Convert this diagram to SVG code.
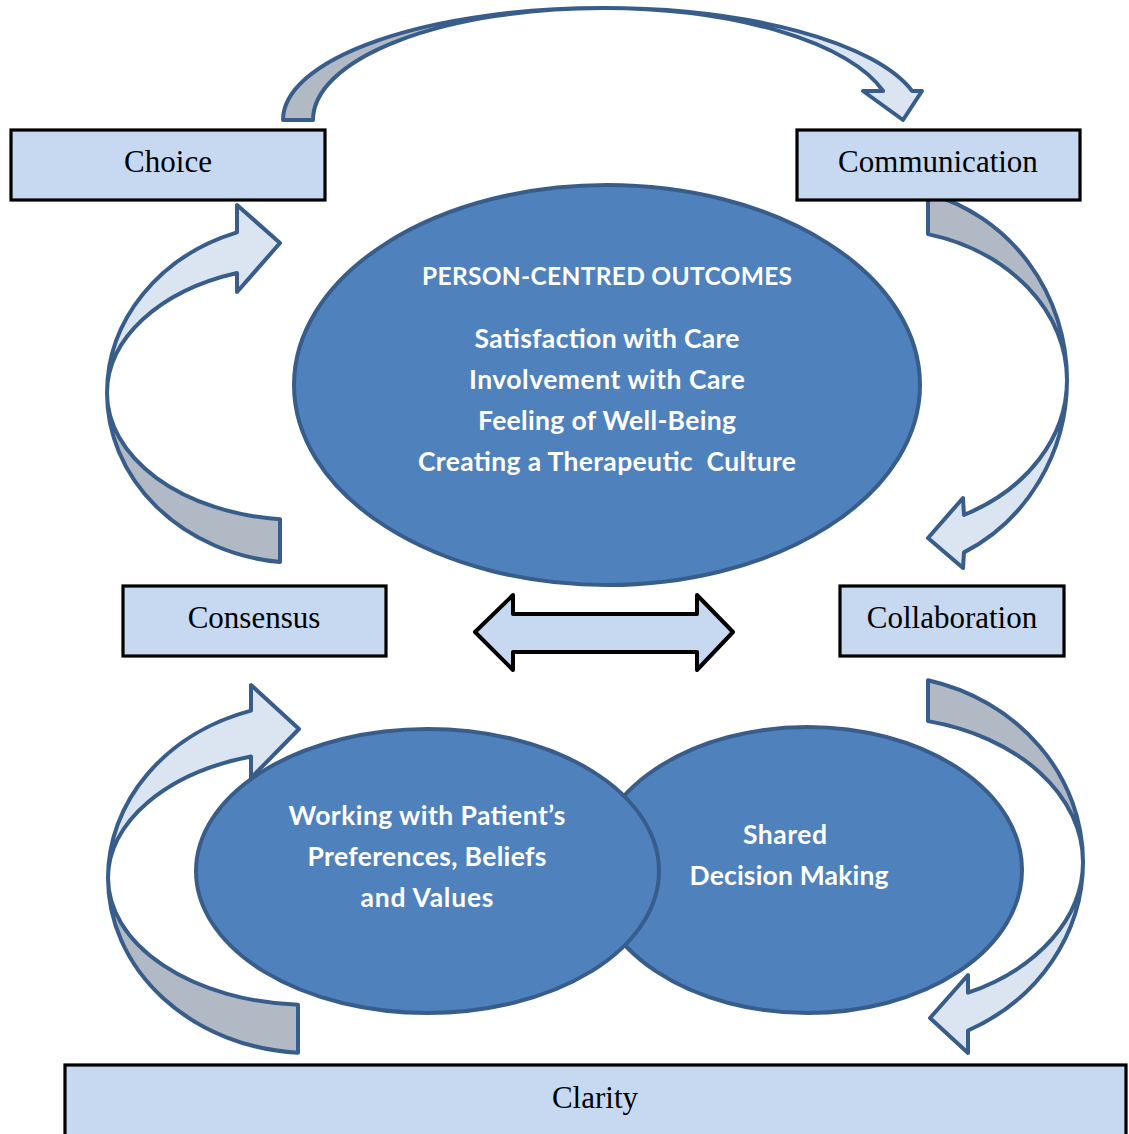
<svg xmlns="http://www.w3.org/2000/svg" width="1129" height="1134" viewBox="0 0 1129 1134">
  <style>
    .band-front { fill: #dbe5f1; stroke: #385d8a; stroke-width: 4; stroke-linejoin: round; }
    .band-back { fill: #b0b9c4; stroke: #385d8a; stroke-width: 4; stroke-linejoin: round; }
    .box { fill: #c6d9f1; stroke: #000; stroke-width: 3.2; }
    .box-text { font-family: "Liberation Serif", "Times New Roman", serif; font-size: 31px; fill: #000; text-anchor: middle; }
    .oval { fill: #4f81bd; stroke: #385d8a; stroke-width: 4; }
    .oval-text { font-family: Lato, "Open Sans", sans-serif; font-weight: bold; font-size: 26.5px; fill: #fff; text-anchor: middle; }
    .oval-title { font-size: 24.5px; }
    .dbl { fill: #c6d9f1; stroke: #000; stroke-width: 4; stroke-linejoin: round; }
  </style>
  <rect width="1129" height="1134" fill="#fff"/>

  <!-- cycle connectors: curved band arrows and the central two-way arrow -->
  <g id="connectors">
    <!-- Choice to Communication (over the top) -->
    <g id="arrow-top">
      <path class="band-back" d="M 283,120 A 320 112 0 0 1 603 8 A 290 112 0 0 0 313 120 Z"/>
      <path class="band-front" d="M 603,8 A 320 112 0 0 1 912.1 91 L 922,91 L 903,120 L 863,91 L 883.1,91 A 290 112 0 0 0 603 8 Z"/>
    </g>
    <!-- Communication down to Collaboration -->
    <g id="arrow-right-upper">
      <path class="band-back" d="M 928,234.1 A 187 151 0 0 1 1067 380 A 187 193 0 0 0 928 193.5 Z"/>
      <path class="band-front" d="M 1067,380 A 187 193 0 0 1 964 552.4 L 963,568 L 928,538 L 963,498 L 964,514.9 A 187 151 0 0 0 1067 380 Z"/>
    </g>
    <!-- Collaboration down towards Clarity -->
    <g id="arrow-right-lower">
      <path class="band-back" d="M 928,721.1 A 203 145 0 0 1 1083 862 A 203 187 0 0 0 928 680.3 Z"/>
      <path class="band-front" d="M 1083,862 A 203 187 0 0 1 968 1030.5 L 968,1053 L 930,1018 L 968,975 L 968,992.7 A 203 145 0 0 0 1083 862 Z"/>
    </g>
    <!-- Consensus up to Choice -->
    <g id="arrow-left-upper">
      <path class="band-back" d="M 280,519.3 L 280,562.1 A 193 170 0 0 1 107 393 A 193 127 0 0 0 280 519.3 Z"/>
      <path class="band-front" d="M 237,273 L 237,292 L 280,243 L 237,205 L 237,232.3 A 193 170 0 0 0 107 393 A 193 127 0 0 1 237 273 Z"/>
    </g>
    <!-- Clarity up to Consensus -->
    <g id="arrow-left-lower">
      <path class="band-back" d="M 298,1004.8 L 298,1052.7 A 202 175 0 0 1 108 878 A 202 127 0 0 0 298 1004.8 Z"/>
      <path class="band-front" d="M 251,756.5 L 251,778 L 299,729 L 251,685 L 251,710.6 A 202 175 0 0 0 108 878 A 202 127 0 0 1 251 756.5 Z"/>
    </g>
    <!-- Consensus <-> Collaboration -->
    <path id="arrow-both" class="dbl" d="M 475,632 L 513,595 L 513,614 L 697,614 L 697,595 L 733,632 L 697,670 L 697,652 L 513,652 L 513,670 Z"/>
  </g>

  <g id="node-outcomes">
    <ellipse class="oval" cx="607" cy="385" rx="313" ry="200"/>
    <text class="oval-text oval-title" x="607" y="285" textLength="370">PERSON-CENTRED OUTCOMES</text>
    <text class="oval-text" x="607" y="348" textLength="265">Satisfaction with Care</text>
    <text class="oval-text" x="607" y="389" textLength="276">Involvement with Care</text>
    <text class="oval-text" x="607" y="430" textLength="258">Feeling of Well-Being</text>
    <text class="oval-text" x="607" y="471" textLength="378" xml:space="preserve">Creating a Therapeutic  Culture</text>
  </g>

  <g id="node-shared-decision">
    <ellipse class="oval" cx="807.5" cy="870" rx="214.5" ry="143"/>
    <text class="oval-text" x="785" y="844" textLength="84">Shared</text>
    <text class="oval-text" x="789" y="885" textLength="199">Decision Making</text>
  </g>

  <g id="node-preferences">
    <ellipse class="oval" cx="427.5" cy="871" rx="231.5" ry="142"/>
    <text class="oval-text" x="427" y="825" textLength="277">Working with Patient’s</text>
    <text class="oval-text" x="427" y="866" textLength="239">Preferences, Beliefs</text>
    <text class="oval-text" x="427" y="907" textLength="133">and Values</text>
  </g>

  <g id="node-choice">
    <rect class="box" x="11" y="130" width="314" height="70"/>
    <text class="box-text" x="168" y="172">Choice</text>
  </g>

  <g id="node-communication">
    <rect class="box" x="797" y="130" width="283" height="70"/>
    <text class="box-text" x="938" y="172">Communication</text>
  </g>

  <g id="node-consensus">
    <rect class="box" x="123" y="586" width="263" height="70"/>
    <text class="box-text" x="254" y="628">Consensus</text>
  </g>

  <g id="node-collaboration">
    <rect class="box" x="840" y="586" width="224" height="70"/>
    <text class="box-text" x="952" y="628">Collaboration</text>
  </g>

  <g id="node-clarity">
    <rect class="box" x="65" y="1065" width="1061" height="80"/>
    <text class="box-text" x="595" y="1108">Clarity</text>
  </g>
</svg>
